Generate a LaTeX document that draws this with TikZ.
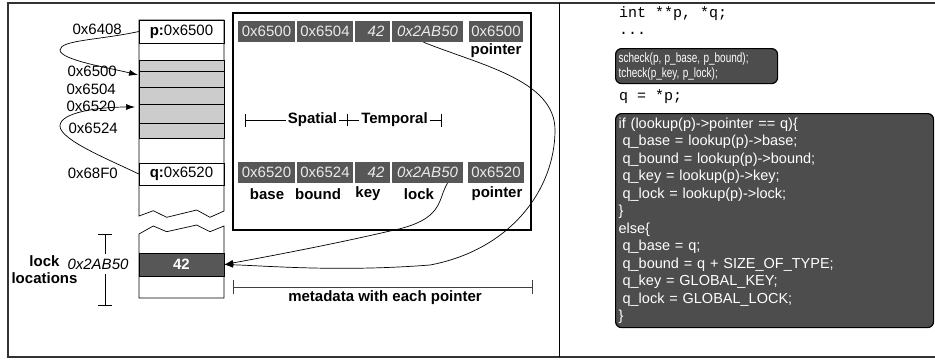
\documentclass[tikz,border=0pt]{standalone}
\usepackage{fontspec}
\usepackage{graphicx}
\setmainfont{Liberation Sans}
\setmonofont{Liberation Mono}
\usetikzlibrary{arrows.meta}
\definecolor{cellgray}{HTML}{575757}
\definecolor{boxgray}{HTML}{4D4D4D}
\definecolor{memgray}{HTML}{CCCCCC}
\definecolor{framegray}{HTML}{333333}
\begin{document}
\fontsize{15}{17}\selectfont
\begin{tikzpicture}[x=1pt,y=-1pt,
  meta/.style={fill=cellgray, text=white!92!black, inner sep=0pt, minimum height=21pt},
  memrow/.style={draw, inner sep=0pt, minimum width=85pt},
  lbl/.style={inner sep=0pt},
  arr/.style={-{Latex[length=9pt,width=6pt]}, line width=0.7pt},
  codebox/.style={draw=black, line width=1.2pt, fill=boxgray, rounded corners=6pt,
     text=white, align=left, inner xsep=3pt, inner ysep=0pt, anchor=north west}
]
\useasboundingbox (0,0) rectangle (935,362);
% frame
\draw[framegray, line width=1.5pt] (935,3) -- (8,3) -- (8,357) -- (935,357);
\draw[line width=0.8pt] (559,3) -- (559,357);

% memory column
\draw[line width=0.7pt] (139,216) -- (139,20) -- (224,20) -- (224,211) -- (210,217.3) -- (196.7,210)
   -- (166.7,217.3) -- (153.3,210.7) -- cycle;
\draw[line width=0.7pt] (139,234) -- (153.3,226) -- (166.7,231.7) -- (196.7,225) -- (210,231.7)
   -- (224,226) -- (224,298) -- (139,298) -- cycle;
\node[memrow, minimum height=23pt] (prow) at (181.5,31.5) {\textbf{p:}0x6500};
\node[memrow, fill=memgray, minimum height=11pt] (g1) at (181.5,65.5) {};
\node[memrow, fill=memgray, minimum height=16pt] (g2) at (181.5,79) {};
\node[memrow, fill=memgray, minimum height=17pt] (g3) at (181.5,95.5) {};
\node[memrow, fill=memgray, minimum height=19pt] (g4) at (181.5,113.5) {};
\node[memrow, fill=memgray, minimum height=15pt] (g5) at (181.5,130.5) {};
\node[memrow, minimum height=22pt] (qrow) at (181.5,174) {\textbf{q:}0x6520};
\node[memrow, fill=cellgray, text=white, font=\bfseries, minimum height=23pt] (m42) at (181.5,264.5) {42};

% address labels
\node[lbl, anchor=east] (a6408) at (122,29) {0x6408};
\node[lbl, anchor=east] (a6500) at (117,71) {0x6500};
\node[lbl, anchor=east] (a6504) at (116,89) {0x6504};
\node[lbl, anchor=east] (a6520) at (116,106) {0x6520};
\node[lbl, anchor=east] (a6524) at (118,128) {0x6524};
\node[lbl, anchor=east] (a68f0) at (118,173) {0x68F0};

% p and q arrows
\coordinate (pt1) at (138,75);
\coordinate (pt2) at (135,107);
\draw[arr] (prow.west) .. controls (100,40) and (60,40) .. (60,50)
   .. controls (60,60) and (110,68) .. (pt1);
\draw[arr] (qrow.west) .. controls (110,160) and (60,140) .. (60,126)
   .. controls (60,112) and (100,107) .. (pt2);

% lock locations
\node[lbl, font=\bfseries, align=center] (locks) at (44.5,270) {lock\\locations};
\node[lbl, font=\itshape] (lockaddr) at (98,264) {0x2AB50};
\coordinate (lbtop) at (105,234);
\coordinate (lbbot) at (105,306);
\draw[{Bar[width=14pt]}-, line width=0.7pt] (lbtop) -- (105,254);
\draw[-{Bar[width=14pt]}, line width=0.7pt] (105,274) -- (lbbot);

% metadata box
\node[draw, line width=2.5pt, minimum width=298pt, minimum height=217pt, inner sep=0pt] (mbox) at (382,121.5) {};
\node[meta, minimum width=57pt] (t1) at (266.5,31.5) {0x6500};
\node[meta, minimum width=56pt] (t2) at (325,31.5) {0x6504};
\node[meta, minimum width=35pt, font=\itshape] (t3) at (372.5,31.5) {\hspace*{7pt}42};
\node[meta, minimum width=71pt, font=\itshape] (t4) at (427.5,31.5) {0x2AB50};
\node[meta, minimum width=54pt] (t5) at (496,31.5) {0x6500};
\node[lbl, font=\bfseries] (tptr) at (496,51) {pointer};
\node[meta, minimum width=57pt] (b1) at (266.5,172.5) {0x6520};
\node[meta, minimum width=56pt] (b2) at (325,172.5) {0x6524};
\node[meta, minimum width=35pt, font=\itshape] (b3) at (372.5,172.5) {\hspace*{7pt}42};
\node[meta, minimum width=71pt, font=\itshape] (b4) at (427.5,172.5) {0x2AB50};
\node[meta, minimum width=56pt] (b5) at (496,172) {0x6520};
\node[lbl, font=\bfseries] (lbase) at (267,194) {base};
\node[lbl, font=\bfseries] (lbound) at (318,194) {bound};
\node[lbl, font=\bfseries] (lkey) at (368,194) {key};
\node[lbl, font=\bfseries] (llock) at (419,194) {lock};
\node[lbl, font=\bfseries] (lptr) at (497,194) {pointer};

% spatial / temporal
\node[font=\bfseries, inner sep=2pt] (sp) at (312.5,120) {Spatial};
\node[font=\bfseries, inner sep=2pt] (tp) at (394.5,120) {Temporal};
\coordinate (sL) at (245,120);
\coordinate (tR) at (442,120);
\draw[{Bar[width=13pt]}-, line width=0.7pt] (sL) -- (sp.west);
\draw[line width=0.7pt] (sp.east) -- (tp.west);
\draw[line width=0.7pt] (347,114) -- (347,126);
\draw[-{Bar[width=13pt]}, line width=0.7pt] (tp.east) -- (tR);

% metadata dimension
\coordinate (mdL) at (233,287);
\coordinate (mdR) at (533,287);
\draw[{Bar[width=14pt]}-{Bar[width=14pt]}, line width=0.8pt, black!75] (mdL) -- (mdR);
\node[lbl, font=\bfseries] (mdlbl) at (385,298) {metadata with each pointer};

% arrows into lock location
\draw[arr] ([xshift=20pt]b4.south) .. controls (437,200) and (445,220) .. (390,231)
   .. controls (330,245) and (260,258) .. (m42.east);
\draw[arr] ([xshift=-4pt]t4.south) .. controls (480,65) and (555,80) .. (555,130)
   .. controls (555,190) and (510,250) .. (430,265)
   .. controls (340,272) and (270,266) .. (m42.east);

% code
\node[lbl, anchor=base west] (c1) at (619,17) {\texttt{int **p, *q;}};
\node[lbl, anchor=base west] (c2) at (619,34) {\texttt{...}};
\node[codebox, text width=156pt, minimum height=35pt, font=\fontsize{13.5}{15}\selectfont] (chk) at (615,48)
  {\scalebox{0.74}[1]{scheck(p, p\_base, p\_bound);}\\\scalebox{0.74}[1]{tcheck(p\_key, p\_lock);}};
\node[lbl, anchor=base west] (c3) at (619,100) {\texttt{q = *p;}};
\node[codebox, text width=312pt, minimum height=214pt, font=\fontsize{14.5}{17.5}\selectfont] (lk) at (615,113)
  {if (lookup(p)->pointer == q)\{\\
   \hspace*{4pt}q\_base = lookup(p)->base;\\
   \hspace*{4pt}q\_bound = lookup(p)->bound;\\
   \hspace*{4pt}q\_key = lookup(p)->key;\\
   \hspace*{4pt}q\_lock = lookup(p)->lock;\\
   \}\\
   else\{\\
   \hspace*{4pt}q\_base = q;\\
   \hspace*{4pt}q\_bound = q + SIZE\_OF\_TYPE;\\
   \hspace*{4pt}q\_key = GLOBAL\_KEY;\\
   \hspace*{4pt}q\_lock = GLOBAL\_LOCK;\\
   \}};
\end{tikzpicture}
\end{document}
